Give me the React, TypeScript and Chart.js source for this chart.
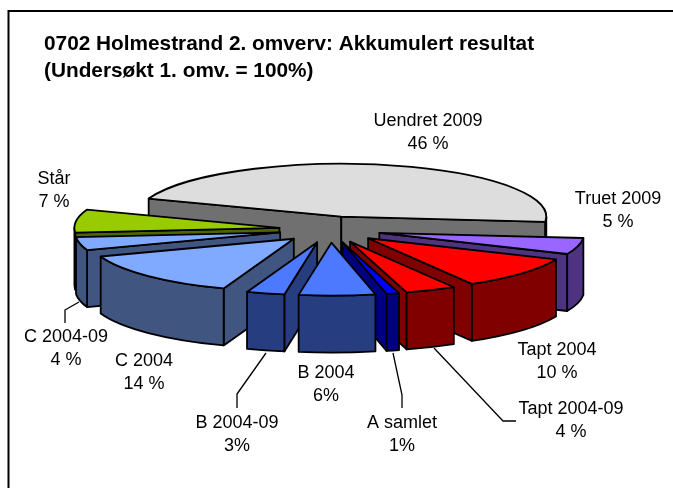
import React, { useEffect, useRef } from "react";
import { Chart, registerables } from "chart.js";

Chart.register(...registerables);

// ---- data ----
const categories = ["Uendret 2009", "Truet 2009", "Tapt 2004", "Tapt 2004-09", "A samlet", "B 2004", "B 2004-09", "C 2004", "C 2004-09", "Står"];
const shares = [46, 5, 10, 4, 1, 6, 3, 14, 4, 7];
const shareTexts = ["46 %", "5 %", "10 %", "4 %", "1%", "6%", "3%", "14 %", "4 %", "7 %"];
const titleLines = ["0702 Holmestrand 2. omverv: Akkumulert resultat", "(Undersøkt 1. omv. = 100%)"];

// ---- styles ----
const topColors = ["#DDDDDD", "#9966FF", "#FF0000", "#FF0000", "#0000FF", "#4D79FF", "#4D79FF", "#80AAFF", "#80AAFF", "#99CC00"];
const wallColors = ["#707070", "#4D3380", "#800000", "#800000", "#000080", "#263D80", "#263D80", "#405580", "#405580", "#4D6600"];

// ---- layout ----
const FONT = '"Liberation Sans", Arial, sans-serif';
const FLATTEN = 0.258;
const EXPLODE = 51;
const DEPTH = 57;
const RADIUS = 205;
const labelCentres: number[][] = [
  [428, 121], [618, 199], [557, 350], [571, 409], [402, 423],
  [326, 373], [237, 423], [144, 361], [66, 337], [54, 179],
];
const LINE_GAP = 23.5;
const leaders: number[][][] = [
  [[65, 323], [65, 310], [79, 302]],
  [[237, 408], [237, 394], [266, 353]],
  [[402, 408], [402, 395], [393, 353]],
  [[516, 421], [503, 421], [434, 348]],
];

function visibleRanges(s: number, e: number): number[][] {
  const out: number[][] = [];
  const TAU = Math.PI * 2;
  for (let n = -2; n <= 2; n++) {
    const a = Math.max(s, n * TAU);
    const b = Math.min(e, n * TAU + Math.PI);
    if (b > a) out.push([a, b]);
  }
  return out;
}

const pie3d = {
  id: "pie3d",
  beforeDraw(chart: any) {
    const { ctx, width, height } = chart;
    ctx.save();
    ctx.strokeStyle = "#000";
    ctx.lineWidth = 2;
    ctx.beginPath();
    ctx.moveTo(8.5, height);
    ctx.lineTo(8.5, 11);
    ctx.lineTo(width, 11);
    ctx.stroke();
    ctx.restore();
  },
  beforeDatasetsDraw(chart: any) {
    const ctx = chart.ctx as CanvasRenderingContext2D;
    const arcs = chart.getDatasetMeta(0).data as any[];
    const slices = arcs.map((arc, i) => {
      const p = arc.getProps(["x", "y", "startAngle", "endAngle", "outerRadius"], true);
      const mid = (p.startAngle + p.endAngle) / 2;
      return {
        i,
        s: p.startAngle,
        e: p.endAngle,
        mid,
        rx: p.outerRadius,
        ry: p.outerRadius * FLATTEN,
        ax: p.x + EXPLODE * Math.cos(mid),
        ay: p.y + EXPLODE * FLATTEN * Math.sin(mid),
      };
    });
    slices.sort((a, b) => Math.sin(a.mid) - Math.sin(b.mid));

    ctx.save();
    ctx.lineWidth = 1.8;
    ctx.lineJoin = "round";
    ctx.strokeStyle = "#000";
    for (const sl of slices) {
      const { s, e, ax, ay, rx, ry, i } = sl;
      ctx.fillStyle = wallColors[i];
      const radial = (ang: number) => {
        const px = ax + rx * Math.cos(ang);
        const py = ay + ry * Math.sin(ang);
        ctx.beginPath();
        ctx.moveTo(ax, ay);
        ctx.lineTo(px, py);
        ctx.lineTo(px, py + DEPTH);
        ctx.lineTo(ax, ay + DEPTH);
        ctx.closePath();
        ctx.fill();
        ctx.stroke();
      };
      if (Math.cos(s) < 0) radial(s);
      if (Math.cos(e) > 0) radial(e);
      for (const [t0, t1] of visibleRanges(s, e)) {
        ctx.beginPath();
        ctx.ellipse(ax, ay, rx, ry, 0, t0, t1);
        ctx.lineTo(ax + rx * Math.cos(t1), ay + ry * Math.sin(t1) + DEPTH);
        ctx.ellipse(ax, ay + DEPTH, rx, ry, 0, t1, t0, true);
        ctx.closePath();
        ctx.fill();
        ctx.stroke();
      }
      ctx.fillStyle = topColors[i];
      ctx.beginPath();
      ctx.moveTo(ax, ay);
      ctx.ellipse(ax, ay, rx, ry, 0, s, e);
      ctx.closePath();
      ctx.fill();
      ctx.stroke();
    }

    ctx.lineWidth = 1.3;
    for (const pts of leaders) {
      ctx.beginPath();
      pts.forEach(([x, y], n) => (n ? ctx.lineTo(x, y) : ctx.moveTo(x, y)));
      ctx.stroke();
    }

    ctx.fillStyle = "#000";
    ctx.font = `18px ${FONT}`;
    ctx.textAlign = "center";
    ctx.textBaseline = "middle";
    categories.forEach((c, i) => {
      const [x, y] = labelCentres[i];
      ctx.fillText(c, x, y);
      ctx.fillText(shareTexts[i], x, y + LINE_GAP);
    });
    ctx.restore();
    return false;
  },
};

export default function App() {
  const ref = useRef<HTMLCanvasElement>(null);
  useEffect(() => {
    const chart = new Chart(ref.current!, {
      type: "pie",
      data: {
        labels: categories,
        datasets: [{ data: shares, backgroundColor: topColors }],
      },
      options: {
        responsive: false,
        animation: false,
        events: [],
        rotation: 290,
        radius: RADIUS,
        layout: { padding: { left: 44, right: 57, top: 31, bottom: 114 } },
        plugins: {
          legend: { display: false },
          tooltip: { enabled: false },
          title: {
            display: true,
            text: titleLines,
            align: "start",
            color: "#000",
            padding: 0,
            font: { family: FONT, size: 20.8, weight: "bold", lineHeight: 1.298 },
          },
        },
      },
      plugins: [pie3d],
    } as any);
    return () => chart.destroy();
  }, []);
  return (
    <div style={{ position: "absolute", left: 0, top: 0, width: 673, height: 488, background: "#fff" }}>
      <canvas ref={ref} width={673} height={488} style={{ display: "block" }} />
    </div>
  );
}
